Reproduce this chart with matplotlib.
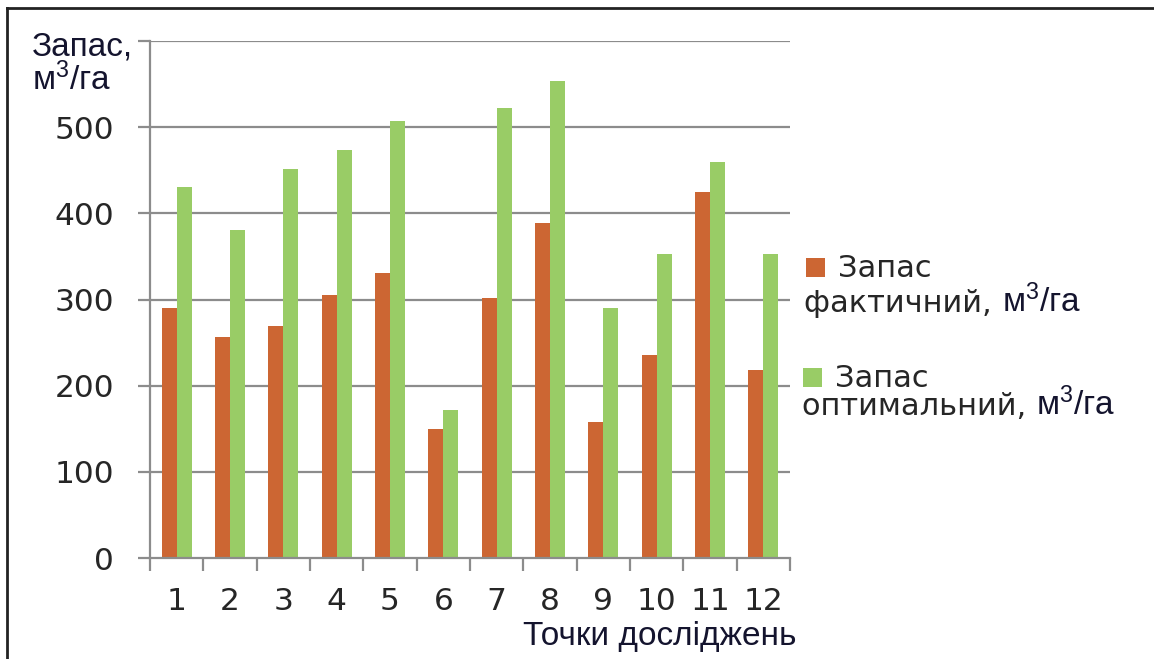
import matplotlib
matplotlib.use("Agg")
import matplotlib.pyplot as plt
from matplotlib.patches import Rectangle
from matplotlib.ticker import FixedLocator, NullFormatter
import numpy as np

# Survey points and stand volumes (m3/ha)
points = ["1", "2", "3", "4", "5", "6", "7", "8", "9", "10", "11", "12"]
actual = [290, 256, 269, 305, 331, 150, 302, 389, 158, 236, 425, 218]
optimal = [430, 381, 452, 473, 507, 172, 522, 553, 290, 353, 460, 353]
y_ticks = [0, 100, 200, 300, 400, 500]

ORANGE = "#CC6633"
GREEN = "#99CC66"
GRID = "#8c8c8c"
NAVY = "#14142e"
BODY = "#262626"
LABEL_FONT = "DejaVu Sans"
TITLE_FONT = "Liberation Sans"

plt.rcParams["mathtext.fontset"] = "custom"
plt.rcParams["mathtext.rm"] = "Liberation Sans"
plt.rcParams["mathtext.it"] = "Liberation Sans:italic"
plt.rcParams["mathtext.bf"] = "Liberation Sans:bold"

W, H = 1154, 659
fig = plt.figure(figsize=(W / 100, H / 100), dpi=100)
fig.patch.set_facecolor("white")


def fx(px):
    return px / W


def fy(py):
    return 1 - py / H


# plot area
x0, x1, ytop, ybot = 150, 790, 41, 558
ax = fig.add_axes([fx(x0), fy(ybot), fx(x1 - x0), fy(ytop) - fy(ybot)])

n = len(points)
centers = np.arange(n) + 0.5
bw = 0.28
ax.bar(centers - bw / 2, actual, width=bw, color=ORANGE, linewidth=0, zorder=3)
ax.bar(centers + bw / 2, optimal, width=bw, color=GREEN, linewidth=0, zorder=3)

ax.set_xlim(0, n)
ax.set_ylim(0, 600)

# gridlines at each 100 including the top
for v in range(100, 601, 100):
    ax.axhline(v, color=GRID, lw=1.6, zorder=1)

for s in ["top", "right"]:
    ax.spines[s].set_visible(False)
for s in ["left", "bottom"]:
    ax.spines[s].set_color(GRID)
    ax.spines[s].set_linewidth(1.6)
    ax.spines[s].set_zorder(4)

ax.set_yticks(y_ticks + [600])
ax.set_yticklabels([str(v) for v in y_ticks] + [""])
ax.tick_params(axis="y", direction="out", length=9, width=1.6, color=GRID,
               pad=17, labelsize=22.5, labelcolor=BODY)
for lab in ax.get_yticklabels():
    lab.set_family(LABEL_FONT)

# boundary ticks on x, labels at category centers
ax.xaxis.set_major_locator(FixedLocator(np.arange(n + 1)))
ax.xaxis.set_major_formatter(NullFormatter())
ax.set_xticks(centers, labels=points, minor=True)
ax.tick_params(axis="x", which="major", direction="out", length=9, width=1.6,
               color=GRID)
ax.tick_params(axis="x", which="minor", length=0, pad=21, labelsize=22.5,
               labelcolor=BODY)
for lab in ax.get_xticklabels(minor=True):
    lab.set_family(LABEL_FONT)

# axis titles
fig.text(fx(32), fy(56), "Запас,", fontsize=24, color=NAVY,
         family=TITLE_FONT, va="baseline", ha="left")
fig.text(fx(32), fy(90), "м$^3$/га", fontsize=24, color=NAVY,
         family=TITLE_FONT, va="baseline", ha="left")
fig.text(fx(797), fy(645), "Точки досліджень", fontsize=24, color=NAVY,
         family=TITLE_FONT, va="baseline", ha="right")

# legend
fig.canvas.draw()
renderer = fig.canvas.get_renderer()
legend_items = [
    (ORANGE, (806, 258), "фактичний, ", (804, 277, 312)),
    (GREEN, (803, 368), "оптимальний, ", (802, 387, 415)),
]
for color, (sx, sy), word, (lx, b1, b2) in legend_items:
    fig.add_artist(Rectangle((fx(sx), fy(sy + 19)), fx(19), fy(0) - fy(19),
                             transform=fig.transFigure, facecolor=color,
                             edgecolor="none"))
    fig.text(fx(sx + 32), fy(b1), "Запас", fontsize=22, color=BODY,
             family=LABEL_FONT, va="baseline", ha="left")
    t = fig.text(fx(lx), fy(b2), word, fontsize=22, color=BODY,
                 family=LABEL_FONT, va="baseline", ha="left")
    bb = t.get_window_extent(renderer)
    fig.text(bb.x1 / W, fy(b2), "м$^3$/га", fontsize=24, color=NAVY,
             family=TITLE_FONT, va="baseline", ha="left")

# outer frame (left and top edges)
fig.add_artist(plt.Line2D([fx(7), fx(7)], [fy(8), 0], transform=fig.transFigure,
                          color="#222222", lw=2))
fig.add_artist(plt.Line2D([fx(7), 1], [fy(8), fy(8)], transform=fig.transFigure,
                          color="#222222", lw=2))

fig.savefig("out.png", dpi=100, facecolor="white")
